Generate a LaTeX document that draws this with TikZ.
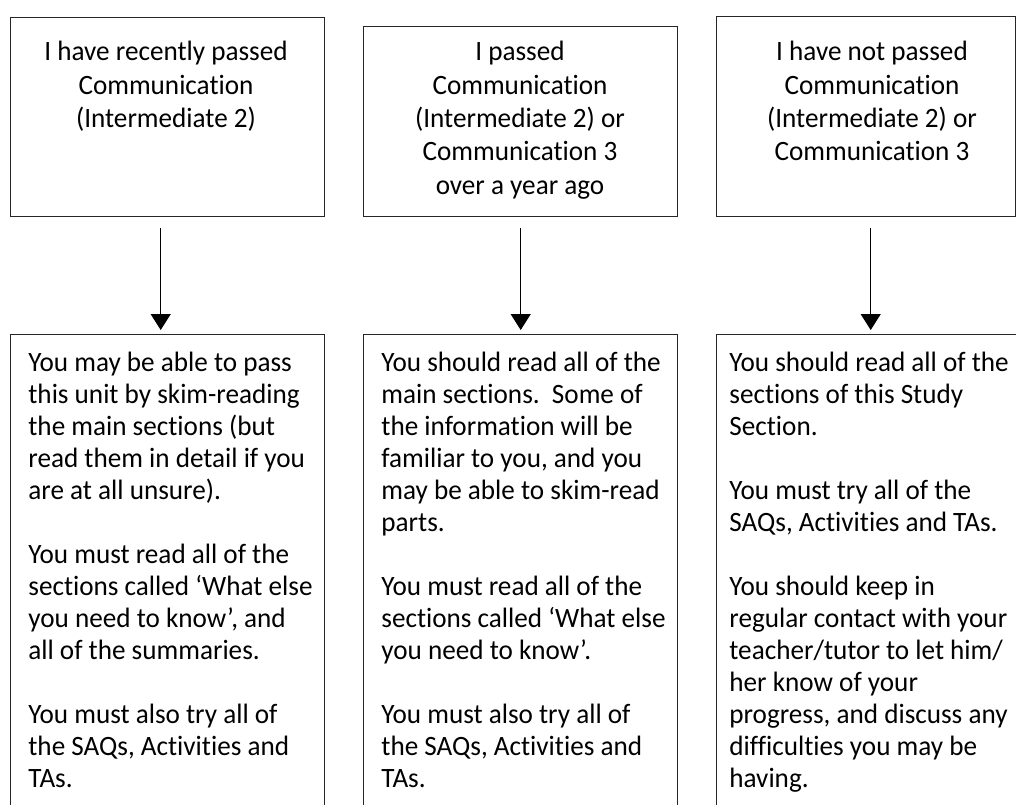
\documentclass[tikz,border=0pt]{standalone}
\usepackage{fontspec}
\setmainfont{Carlito}[FakeStretch=0.97, Ligatures={TeX,NoCommon}]
\usetikzlibrary{positioning,arrows.meta}

\tikzset{
    box/.style={draw=black!85, line width=0.7pt, inner sep=0pt, anchor=north west},
    headtext/.style={align=center, anchor=north, inner sep=0pt,
        font=\fontsize{14}{16.65}\selectfont},
    bodytext/.style={align=left, anchor=north west, inner sep=0pt,
        font=\fontsize{14}{16}\selectfont},
    arr/.style={-{Triangle[width=10pt,length=8pt]}, line width=0.6pt,
        shorten <=5.5pt, shorten >=2pt},
}

\begin{document}
\begin{tikzpicture}[x=0.5pt,y=-0.5pt]
    \useasboundingbox (0,0) rectangle (1016,804);
    \clip (0,0) rectangle (1016,804);

    \node[box, minimum width=157pt, minimum height=99.5pt] (cond1) at (10,17) {};
    \node[box, minimum width=157pt, minimum height=95pt] (cond2) at (363,26) {};
    \node[box, minimum width=149.5pt, minimum height=100pt] (cond3) at (716,16) {};

    \node[box, minimum width=157pt, minimum height=250pt] (adv1) at (10,334) {};
    \node[box, minimum width=157pt, minimum height=250pt] (adv2) at (363,334) {};
    \node[box, minimum width=157pt, minimum height=250pt] (adv3) at (716,334) {};

    \node[headtext] (head1) at (166,41) {I have recently passed\\Communication\\(Intermediate 2)};
    \node[headtext] (head2) at (520,41) {I passed\\Communication\\(Intermediate 2) or\\Communication 3\\over a year ago};
    \node[headtext] (head3) at (872,41) {I have not passed\\Communication\\(Intermediate 2) or\\Communication 3};

    \node[bodytext] (body1) at (28,352) {You may be able to pass\\this unit by skim-reading\\the main sections (but\\read them in detail if you\\are at all unsure).\\[16pt]
        You must read all of the\\sections called ‘What else\\you need to know’, and\\all of the summaries.\\[16pt]
        You must also try all of\\the SAQs, Activities and\\TAs.};
    \node[bodytext] (body2) at (381,352) {You should read all of the\\main sections.\ \ Some of\\the information will be\\familiar to you, and you\\may be able to skim-read\\parts.\\[16pt]
        You must read all of the\\sections called ‘What else\\you need to know’.\\[16pt]
        You must also try all of\\the SAQs, Activities and\\TAs.};
    \node[bodytext] (body3) at (729,352) {You should read all of the\\sections of this Study\\Section.\\[16pt]
        You must try all of the\\SAQs, Activities and TAs.\\[16pt]
        You should keep in\\regular contact with your\\teacher/tutor to let him/\\her know of your\\progress, and discuss any\\difficulties you may be\\having.};

    \draw[arr] ([xshift=-3.5pt]cond1.south) -- ([xshift=-3.5pt]cond1.south |- adv1.north);

    \draw[arr] (cond2.south) -- (cond2.south |- adv2.north);

    \draw[arr] ([xshift=2.25pt]cond3.south) -- ([xshift=2.25pt]cond3.south |- adv3.north);
\end{tikzpicture}
\end{document}
